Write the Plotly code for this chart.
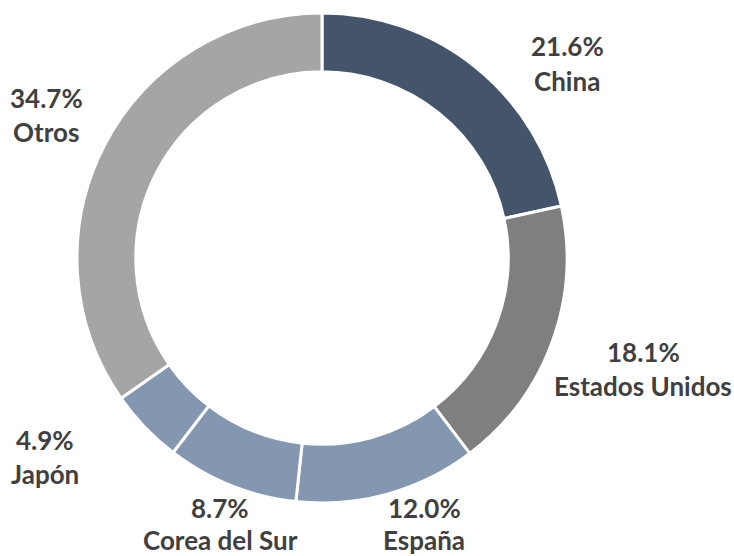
import plotly.graph_objects as go

countries = ["China", "Estados Unidos", "España", "Corea del Sur", "Japón", "Otros"]
shares = [21.6, 18.1, 12.0, 8.7, 4.9, 34.7]
colors = ["#44546A", "#7F7F7F", "#8497B0", "#8497B0", "#8497B0", "#A5A5A5"]

W, H = 734, 556
cx, cy, R = 322, 258, 245

fig = go.Figure(go.Pie(
    labels=countries,
    values=shares,
    sort=False,
    direction="clockwise",
    rotation=0,
    hole=0.76,
    marker=dict(colors=colors, line=dict(color="white", width=3)),
    textinfo="none",
    showlegend=False,
    domain=dict(x=[(cx - R) / W, (cx + R) / W], y=[1 - (cy + R) / H, 1 - (cy - R) / H]),
))

# label positions (pixels): x centre, y of percent line, y of name line
label_pos = {
    "China": (567, 46, 81),
    "Estados Unidos": (643, 352, 386),
    "España": (424, 508, 540),
    "Corea del Sur": (220, 508, 540),
    "Japón": (45, 440, 474),
    "Otros": (46, 98, 132),
}
font = dict(family="Lato, 'Open Sans', sans-serif", size=26, color="#404040")
for c, v in zip(countries, shares):
    x, y1, y2 = label_pos[c]
    fig.add_annotation(x=x / W, y=1 - y1 / H, xref="paper", yref="paper",
                       text=f"<b>{v:.1f}%</b>", showarrow=False, font=font,
                       xanchor="center", yanchor="middle", borderpad=0)
    fig.add_annotation(x=x / W, y=1 - y2 / H, xref="paper", yref="paper",
                       text=f"<b>{c}</b>", showarrow=False, font=font,
                       xanchor="center", yanchor="middle", borderpad=0)

fig.update_layout(width=W, height=H, margin=dict(l=0, r=0, t=0, b=0),
                  paper_bgcolor="white", plot_bgcolor="white")
fig.write_html("out.html", config={"displayModeBar": False},
               post_script="document.body.style.margin='0';")
